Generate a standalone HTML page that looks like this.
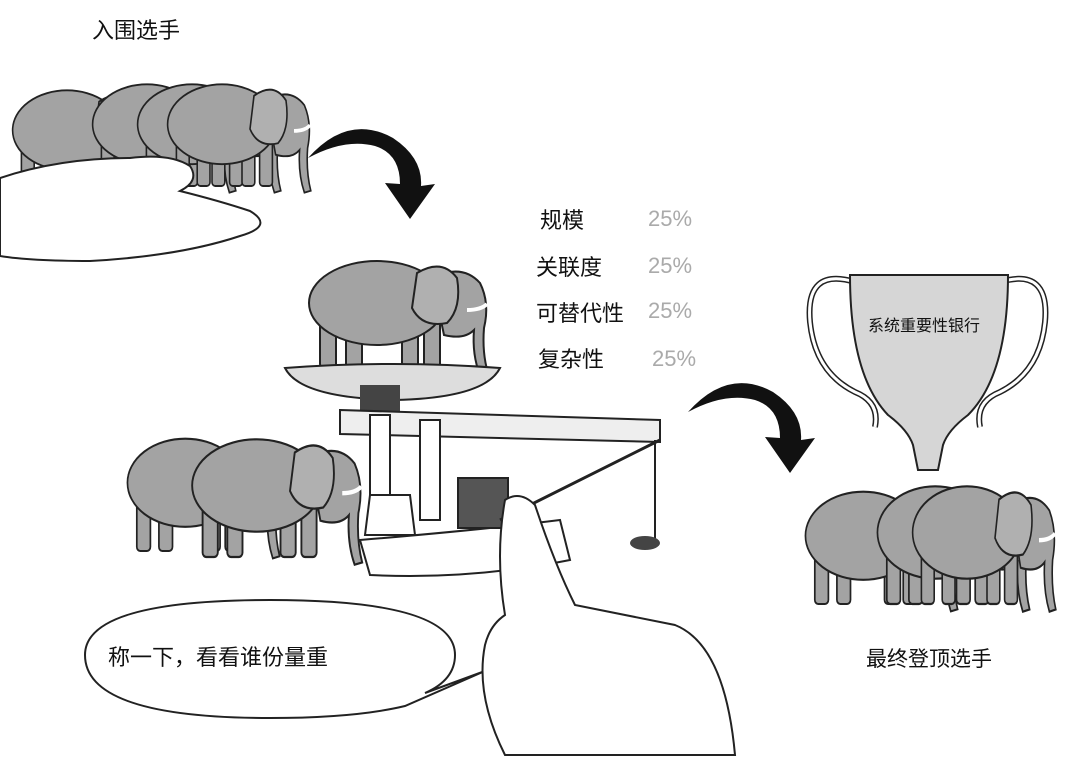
<!DOCTYPE html>
<html><head><meta charset="utf-8"><style>
html,body{margin:0;padding:0;background:#fff;}
svg{display:block;}
text{font-family:"Liberation Sans","Noto Sans CJK SC",sans-serif;}
</style></head><body>
<svg width="1080" height="758" viewBox="0 0 1080 758" xmlns="http://www.w3.org/2000/svg">
<defs>
<g id="ele" stroke="#222" stroke-width="2" fill="#a3a3a3">
  <rect x="8" y="70" width="16" height="50" rx="4"/>
  <rect x="34" y="72" width="16" height="48" rx="4"/>
  <rect x="90" y="72" width="16" height="48" rx="4"/>
  <rect x="112" y="70" width="16" height="50" rx="4"/>
  <ellipse cx="65" cy="55" rx="68" ry="42"/>
  <path d="M120 30 q30 -15 48 5 q10 20 4 45 q-2 25 4 45 l-8 2 q-8 -20 -6 -45 q-10 10 -30 5 z"/>
  <path d="M105 25 q25 -15 40 5 q5 30 -10 45 q-25 5 -35 -15 z" fill="#b0b0b0"/>
  <path d="M155 62 q14 0 20 -6" fill="none" stroke="#fff" stroke-width="4"/>
</g>
</defs>

<!-- top-left group -->
<text x="92" y="38" font-size="22" fill="#111">入围选手</text>
<g transform="translate(15,78) scale(0.8,0.95)"><use href="#ele"/></g>
<g transform="translate(95,72) scale(0.8,0.95)"><use href="#ele"/></g>
<g transform="translate(140,72) scale(0.8,0.95)"><use href="#ele"/></g>
<g transform="translate(170,72) scale(0.8,0.95)"><use href="#ele"/></g>
<path d="M0 178 q60 -20 130 -20 q40 -5 60 8 q10 15 -10 25 q40 10 70 20 q25 15 -10 25 q-60 20 -150 25 q-60 0 -90 -5 z" fill="#fff" stroke="#222" stroke-width="2"/>

<!-- arrow 1 -->
<path d="M308 158 q40 -45 85 -20 q30 20 28 48 l14 -2 l-25 35 l-25 -36 l15 1 q0 -30 -25 -38 q-30 -8 -67 12 z" fill="#111"/>

<!-- percentages -->
<g font-size="22" fill="#111">
<text x="540" y="228">规模</text>
<text x="536" y="275">关联度</text>
<text x="536" y="321">可替代性</text>
<text x="538" y="367">复杂性</text>
</g>
<g font-size="22" fill="#aaa">
<text x="648" y="226">25%</text>
<text x="648" y="273">25%</text>
<text x="648" y="318">25%</text>
<text x="652" y="366">25%</text>
</g>

<!-- scale -->
<g transform="translate(312,248) scale(1.0,1.0)"><use href="#ele"/></g>
<path d="M285 368 q110 -8 215 0 q-15 30 -105 32 q-95 -2 -110 -32 z" fill="#ddd" stroke="#222" stroke-width="2"/>
<rect x="360" y="385" width="40" height="30" fill="#444"/>
<path d="M340 410 l320 10 l0 22 l-320 -8 z" fill="#eee" stroke="#222" stroke-width="2"/>
<rect x="370" y="415" width="20" height="80" fill="#fff" stroke="#222" stroke-width="2"/>
<rect x="420" y="420" width="20" height="100" fill="#fff" stroke="#222" stroke-width="2"/>
<path d="M370 495 h40 l5 40 h-50 z" fill="#fff" stroke="#222" stroke-width="2"/>
<path d="M360 540 q120 -10 200 -20 l10 40 q-100 20 -200 15 z" fill="#fff" stroke="#222" stroke-width="2"/>
<rect x="458" y="478" width="50" height="50" fill="#555" stroke="#222" stroke-width="2"/>
<path d="M500 520 l160 -80" stroke="#222" stroke-width="3"/>
<path d="M655 440 v100" stroke="#222" stroke-width="2"/>
<ellipse cx="645" cy="543" rx="15" ry="7" fill="#444"/>

<!-- left elephants -->
<g transform="translate(130,425) scale(0.85,1.05)"><use href="#ele"/></g>
<g transform="translate(195,425) scale(0.95,1.1)"><use href="#ele"/></g>

<!-- arrow 2 -->
<path d="M688 412 q40 -45 85 -20 q30 20 28 48 l14 -2 l-25 35 l-25 -36 l15 1 q0 -30 -25 -38 q-30 -8 -67 12 z" fill="#111"/>

<!-- trophy -->
<path d="M855 282 q-50 -15 -45 40 q5 50 45 70 q25 10 20 35" fill="none" stroke="#222" stroke-width="6"/>
<path d="M855 282 q-50 -15 -45 40 q5 50 45 70 q25 10 20 35" fill="none" stroke="#fff" stroke-width="3"/>
<path d="M1000 282 q50 -15 45 40 q-5 50 -45 70 q-25 10 -20 35" fill="none" stroke="#222" stroke-width="6"/>
<path d="M1000 282 q50 -15 45 40 q-5 50 -45 70 q-25 10 -20 35" fill="none" stroke="#fff" stroke-width="3"/>
<path d="M850 275 h158 q0 100 -40 140 q-20 15 -25 30 l-5 25 h-20 l-5 -25 q-5 -15 -25 -30 q-38 -40 -38 -140 z" fill="#d6d6d6" stroke="#222" stroke-width="2"/>
<text x="868" y="331" font-size="16" fill="#111">系统重要性银行</text>

<!-- right elephants -->
<g transform="translate(808,478) scale(0.85,1.05)"><use href="#ele"/></g>
<g transform="translate(880,472) scale(0.85,1.1)"><use href="#ele"/></g>
<g transform="translate(915,472) scale(0.8,1.1)"><use href="#ele"/></g>
<text x="866" y="666" font-size="21" fill="#111">最终登顶选手</text>

<!-- speech bubble -->
<path d="M85 655 q0 -55 185 -55 q185 0 185 55 q0 25 -30 38 l60 -22 l-80 35 q-50 12 -135 12 q-185 0 -185 -63 z" fill="#fff" stroke="#222" stroke-width="2"/>
<text x="108" y="665" font-size="22" fill="#111">称一下，看看谁份量重</text>

<!-- finger/hand -->
<path d="M505 500 q15 -10 30 5 q20 60 40 100 q50 10 100 20 q50 20 60 130 h-230 q-30 -60 -20 -110 q5 -20 20 -30 q-10 -60 0 -115 z" fill="#fff" stroke="#222" stroke-width="2"/>
</svg>
</body></html>
